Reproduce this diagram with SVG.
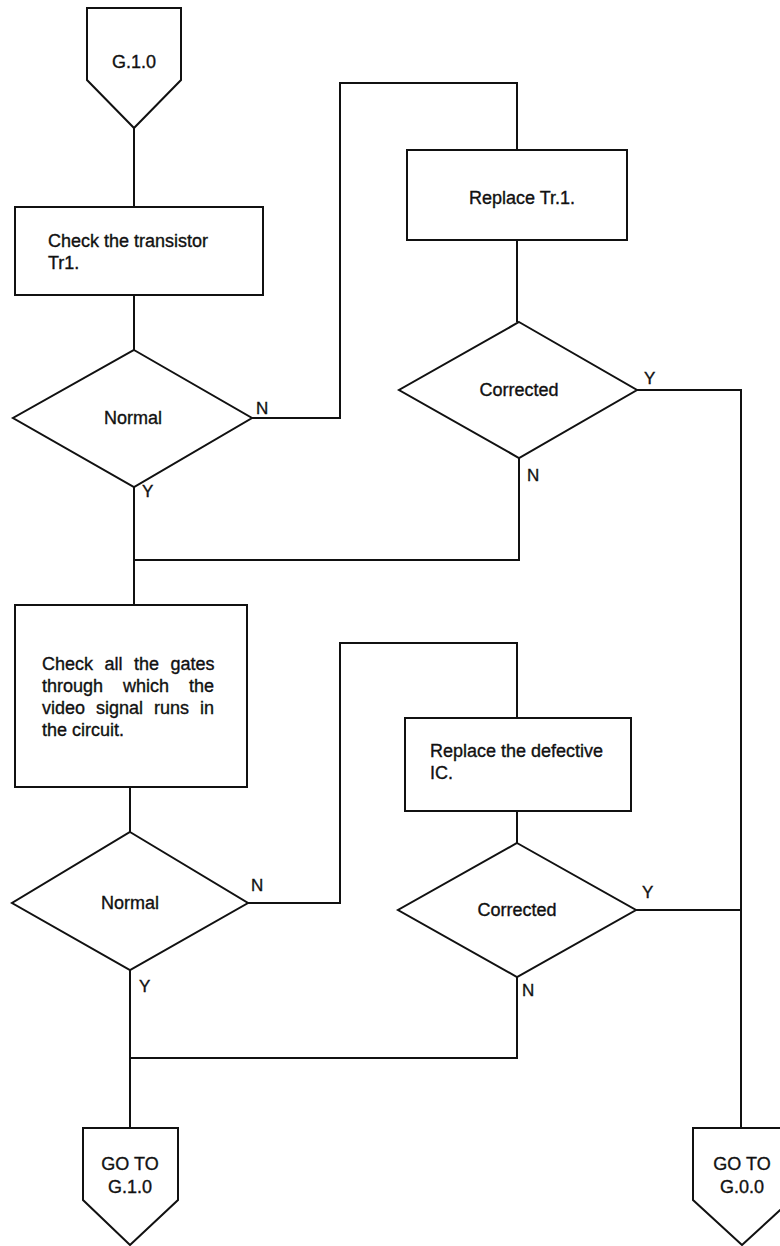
<svg xmlns="http://www.w3.org/2000/svg" width="780" height="1246" viewBox="0 0 780 1246">
<style>
.s{fill:#fff;stroke:#111;stroke-width:2;stroke-linejoin:miter}
.c{fill:none;stroke:#111;stroke-width:2}
text{font-family:"Liberation Sans",Arial,sans-serif;font-size:18px;fill:#111;stroke:#111;stroke-width:0.35}
.m{text-anchor:middle}
.l{font-size:17px}
</style>
<rect width="780" height="1246" fill="#fff"/>
<g id="connectors">
<polyline class="c" points="134,128 134,207"/>
<polyline class="c" points="134,295 134,350"/>
<polyline class="c" points="252,418 340,418 340,83 517,83 517,150"/>
<polyline class="c" points="517,240 517,322"/>
<polyline class="c" points="637,390 741,390 741,1128"/>
<polyline class="c" points="519,458 519,560 134,560"/>
<polyline class="c" points="134,487 134,605"/>
<polyline class="c" points="130,787 130,832"/>
<polyline class="c" points="248,903 340,903 340,643 517,643 517,718"/>
<polyline class="c" points="517,811 517,843"/>
<polyline class="c" points="636,910 741,910"/>
<polyline class="c" points="517,977 517,1058 130,1058"/>
<polyline class="c" points="130,970 130,1128"/>
<text class="l" x="256" y="414">N</text>
<text class="l" x="142" y="497">Y</text>
<text class="l" x="644" y="384">Y</text>
<text class="l" x="527" y="481">N</text>
<text class="l" x="251" y="891">N</text>
<text class="l" x="139" y="992">Y</text>
<text class="l" x="642" y="898">Y</text>
<text class="l" x="522" y="996">N</text>
</g>
<g id="start">
<polygon class="s" points="87,8 181,8 181,80 134,128 87,80"/>
<text class="m" x="134" y="68">G.1.0</text>
</g>
<g id="check_tr1">
<rect class="s" x="15" y="207" width="248" height="88"/>
<text x="48" y="247">Check the transistor</text>
<text x="48" y="269">Tr1.</text>
</g>
<g id="normal1">
<polygon class="s" points="134,350 252,418 134,487 13,418"/>
<text class="m" x="133" y="424">Normal</text>
</g>
<g id="replace_tr1">
<rect class="s" x="407" y="150" width="220" height="90"/>
<text class="m" x="522" y="204">Replace Tr.1.</text>
</g>
<g id="corrected1">
<polygon class="s" points="519,322 637,390 519,458 399,390"/>
<text class="m" x="519" y="396">Corrected</text>
</g>
<g id="check_gates">
<rect class="s" x="15" y="605" width="232" height="182"/>
<text x="42" y="670" word-spacing="6.5">Check all the gates</text>
<text x="42" y="692" word-spacing="15">through which the</text>
<text x="42" y="714" word-spacing="6">video signal runs in</text>
<text x="42" y="736">the circuit.</text>
</g>
<g id="normal2">
<polygon class="s" points="130,832 248,903 130,970 12,903"/>
<text class="m" x="130" y="909">Normal</text>
</g>
<g id="replace_ic">
<rect class="s" x="405" y="718" width="226" height="93"/>
<text x="430" y="757">Replace the defective</text>
<text x="430" y="779">IC.</text>
</g>
<g id="corrected2">
<polygon class="s" points="517,843 636,910 517,977 398,910"/>
<text class="m" x="517" y="916">Corrected</text>
</g>
<g id="goto_g10">
<polygon class="s" points="83,1128 178,1128 178,1200 130,1245 83,1200"/>
<text class="m" x="130" y="1170">GO TO</text>
<text class="m" x="130" y="1193">G.1.0</text>
</g>
<g id="goto_g00">
<polygon class="s" points="693,1128 791,1128 791,1200 742,1245 693,1200"/>
<text class="m" x="742" y="1170">GO TO</text>
<text class="m" x="742" y="1193">G.0.0</text>
</g>
</svg>
